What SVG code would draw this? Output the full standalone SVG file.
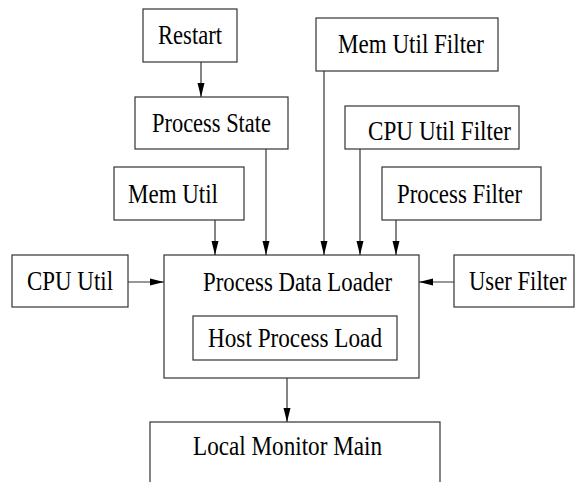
<svg xmlns="http://www.w3.org/2000/svg" width="576" height="482" viewBox="0 0 576 482">
<defs>
<marker id="arr" markerWidth="14" markerHeight="8" refX="14" refY="4" orient="auto" markerUnits="userSpaceOnUse">
<path d="M0,0.5 L14,4 L0,7.5 z" fill="#000"/>
</marker>
<style>
.n rect{fill:#fff;stroke:#333;stroke-width:1.2}
text{font-family:"Liberation Serif","Times New Roman",serif;font-size:27px;fill:#000}
.c line{stroke:#333;stroke-width:1.2;marker-end:url(#arr)}
</style>
</defs>
<rect x="0" y="0" width="576" height="482" style="fill:#fff;stroke:none"/>
<g id="restart" class="n"><rect x="143" y="9" width="94" height="53"/><text x="158" y="44" textLength="64" lengthAdjust="spacingAndGlyphs">Restart</text></g>
<g id="process-state" class="n"><rect x="135" y="97" width="153" height="52"/><text x="152" y="132" textLength="119" lengthAdjust="spacingAndGlyphs">Process State</text></g>
<g id="mem-util-filter" class="n"><rect x="316" y="18" width="182" height="53"/><text x="338" y="53" textLength="146" lengthAdjust="spacingAndGlyphs">Mem Util Filter</text></g>
<g id="cpu-util-filter" class="n"><rect x="345" y="106" width="174" height="43"/><text x="368" y="140" textLength="143" lengthAdjust="spacingAndGlyphs">CPU Util Filter</text></g>
<g id="process-filter" class="n"><rect x="382" y="167" width="159" height="53"/><text x="397" y="203" textLength="125" lengthAdjust="spacingAndGlyphs">Process Filter</text></g>
<g id="mem-util" class="n"><rect x="114" y="167" width="130" height="53"/><text x="128" y="203" textLength="90" lengthAdjust="spacingAndGlyphs">Mem Util</text></g>
<g id="cpu-util" class="n"><rect x="12" y="255" width="116" height="52"/><text x="27" y="290" textLength="86" lengthAdjust="spacingAndGlyphs">CPU Util</text></g>
<g id="user-filter" class="n"><rect x="454" y="255" width="120" height="52"/><text transform="translate(469,290) scale(0.84,1)" x="0" y="0">User Filter</text></g>
<g id="process-data-loader" class="n"><rect x="164" y="255" width="255" height="123"/><text x="203" y="291" textLength="189" lengthAdjust="spacingAndGlyphs">Process Data Loader</text></g>
<g id="host-process-load" class="n"><rect x="193" y="316" width="204" height="44"/><text x="208" y="347" textLength="174" lengthAdjust="spacingAndGlyphs">Host Process Load</text></g>
<g id="local-monitor-main" class="n"><rect x="150" y="422" width="290" height="90"/><text x="193" y="455" textLength="189" lengthAdjust="spacingAndGlyphs">Local Monitor Main</text></g>
<g id="connectors" class="c">
<line x1="201" y1="62" x2="201" y2="97"/>
<line x1="215" y1="220" x2="215" y2="255"/>
<line x1="266" y1="149" x2="266" y2="255"/>
<line x1="324" y1="71" x2="324" y2="255"/>
<line x1="360" y1="149" x2="360" y2="255"/>
<line x1="396" y1="220" x2="396" y2="255"/>
<line x1="128" y1="282" x2="164" y2="282"/>
<line x1="454" y1="282" x2="419" y2="282"/>
<line x1="287" y1="378" x2="287" y2="422"/>
</g>
</svg>
